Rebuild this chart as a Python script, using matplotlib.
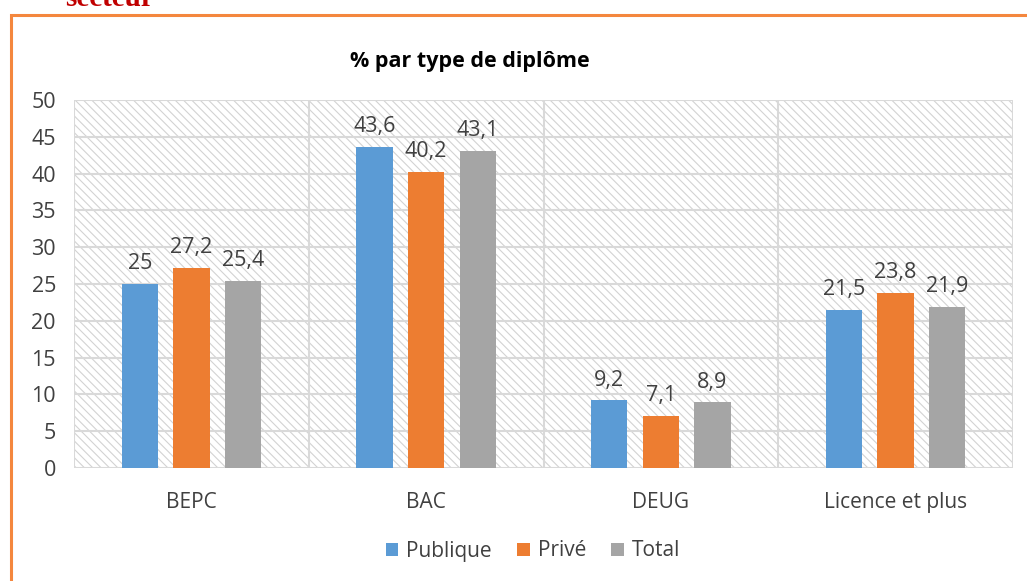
import matplotlib
matplotlib.use("Agg")
import matplotlib.pyplot as plt
from matplotlib.patches import Rectangle
import numpy as np

categories = ["BEPC", "BAC", "DEUG", "Licence et plus"]
series_names = ["Publique", "Privé", "Total"]
publique = [25, 43.6, 9.2, 21.5]
prive = [27.2, 40.2, 7.1, 23.8]
total = [25.4, 43.1, 8.9, 21.9]
yticks = [0, 5, 10, 15, 20, 25, 30, 35, 40, 45, 50]

colors = ["#5B9BD5", "#ED7D31", "#A5A5A5"]
grid_c = "#D9D9D9"

plt.rcParams['font.family'] = ['Open Sans', 'DejaVu Sans']
plt.rcParams['hatch.linewidth'] = 0.8
plt.rcParams['hatch.color'] = '#D3D3D3'

fig = plt.figure(figsize=(10.27, 5.81), dpi=100)
ax = fig.add_axes([74/1027, 1-468/581, (1013-74)/1027, (468-100)/581])

# orange border (top and left visible)
fig.patches.append(Rectangle((10.5/1027, -0.01), 1.1, (1-15/581)+0.01, transform=fig.transFigure,
                             fill=False, edgecolor="#F4873E", lw=2.2))
fig.text(65/1027, 1-6/581, "secteur", color="#C00000", fontsize=21, fontweight="bold",
         family=["Liberation Serif", "DejaVu Serif"], ha="left", va="baseline")

# hatched background
ax.add_patch(Rectangle((0, 0), 1, 1, transform=ax.transAxes, facecolor="white",
                       edgecolor="#D3D3D3", hatch="\\\\\\\\", lw=0, zorder=0))

x = np.arange(len(categories))
w = 0.155
off = 0.22
for i, (vals, name) in enumerate(zip([publique, prive, total], series_names)):
    pos = x + (i - 1) * off
    bars = ax.bar(pos, vals, width=w, color=colors[i], label=name, zorder=3)
    for b, v in zip(bars, vals):
        ax.text(b.get_x() + b.get_width()/2, v + 2.0, f"{v:g}".replace(".", ","),
                ha="center", va="baseline", fontsize=15.5, color="#404040", zorder=4)

ax.set_xlim(-0.5, 3.5)
ax.set_ylim(0, 50)
ax.set_yticks(yticks)
ax.set_yticklabels([str(t) for t in yticks], fontsize=15.5, color="#404040")
ax.set_xticks(x)
ax.set_xticklabels(categories, fontsize=15, color="#404040")
ax.tick_params(axis='both', length=0)
ax.tick_params(axis='x', pad=17)
ax.tick_params(axis='y', pad=13)
for t in yticks:
    ax.axhline(t, color=grid_c, lw=1.5, zorder=1)
for xv in [-0.5, 0.5, 1.5, 2.5, 3.5]:
    ax.axvline(xv, color=grid_c, lw=1.5, zorder=1)
for s in ax.spines.values():
    s.set_visible(False)

fig.text(470/1027, 1-62/581, "% par type de diplôme", ha="center", va="center",
         fontsize=15.5, fontweight="bold", color="#000000")

leg = fig.legend(loc="center", bbox_to_anchor=(533/1027, 1-551/581), ncol=3, frameon=False,
                 fontsize=15, handlelength=0.6, handleheight=0.6, columnspacing=1.2,
                 handletextpad=0.4)
for t in leg.get_texts():
    t.set_color("#404040")

fig.savefig("out.png", dpi=100)
